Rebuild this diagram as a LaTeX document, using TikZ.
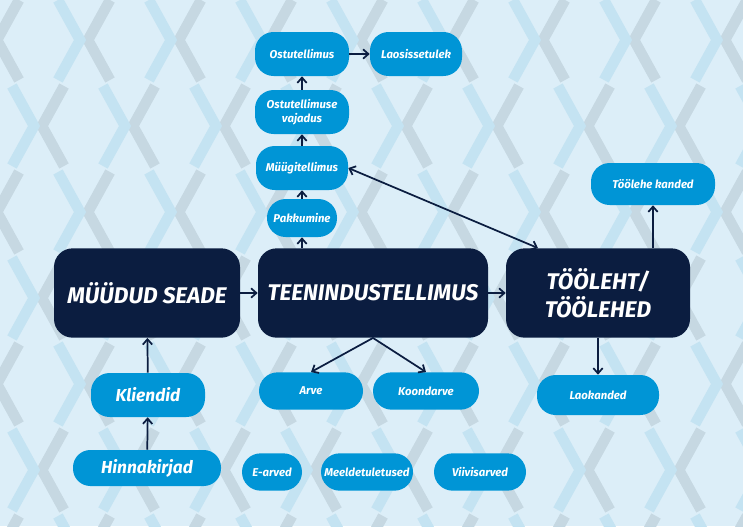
\documentclass[tikz,border=0pt]{standalone}
\usepackage{fontspec}
\setmainfont{Fira Sans}
\usetikzlibrary{positioning,arrows.meta}
\definecolor{bgblue}{HTML}{DCEEF8}
\definecolor{chevblue}{HTML}{C4E3F2}
\definecolor{chevgrey}{HTML}{C6D8E2}
\definecolor{darknavy}{HTML}{0B1D40}
\definecolor{nodeblue}{HTML}{0095D6}
\tikzset{
	big/.style = {fill=darknavy, text=white, rounded corners=14pt, minimum height=67pt,
		align=center, font=\fontsize{17}{21}\selectfont\bfseries\itshape},
	pill/.style = {fill=nodeblue, text=white, rounded corners=14pt, minimum height=33pt,
		align=center, inner sep=1pt, font=\fontsize{8.5}{10}\selectfont\bfseries\itshape},
	link/.style = {-{Straight Barb[length=4pt,width=7pt]}, line width=1.3pt, draw=darknavy}
}
\begin{document}
\begin{tikzpicture}[x = 0.75pt, y = -0.75pt]
	\useasboundingbox (0,0) rectangle (743,526);
	\fill[bgblue] (0,0) rectangle (743,526);
	
	\begin{scope}
	\clip (0,0) rectangle (743,526);
	\foreach \r in {0,...,6} {
		\pgfmathsetmacro{\yy}{\r*86}
		\pgfmathsetmacro{\sh}{mod(\r,2)*45}
		\foreach \c in {-1,...,8} {
			\draw[chevgrey, line width=8pt] (\c*91+\sh+110,\yy) -- (\c*91+\sh+88,\yy+40) -- (\c*91+\sh+110,\yy+80);
			\draw[chevblue, line width=8pt] (\c*91+\sh+58,\yy) -- (\c*91+\sh+80,\yy+40) -- (\c*91+\sh+58,\yy+80);
		}
	}
	\end{scope}
	
	\node[big, minimum width=139.5pt] (seade) at (147,293) {MÜÜDUD SEADE};
	\node[big, minimum width=172.5pt] (teenindus) at (373,293) {TEENINDUSTELLIMUS};
	\node[big, minimum width=138pt] (tooleht) at (598,293) {TÖÖLEHT/\\TÖÖLEHED};
	
	\node[pill, minimum width=70.5pt] (ostu) at (302,54) {Ostutellimus};
	\node[pill, minimum width=69pt] (laosisse) at (416,54) {Laosissetulek};
	\node[pill, minimum width=70.5pt] (vajadus) at (302,112) {Ostutellimuse\\vajadus};
	\node[pill, minimum width=69pt] (myygi) at (302,168) {Müügitellimus};
	\node[pill, minimum width=52.5pt, minimum height=28.5pt] (pakkumine) at (302,218) {Pakkumine};
	\node[pill, minimum width=93pt, minimum height=31.5pt] (kanded) at (653,184) {Töölehe kanded};
	
	\node[pill, minimum width=85.5pt, font=\fontsize{13}{15}\selectfont\bfseries\itshape] (kliendid) at (148,395) {Kliendid};
	\node[pill, minimum width=111pt, minimum height=27pt, rounded corners=13pt, font=\fontsize{13}{15}\selectfont\bfseries\itshape] (hinna) at (147,468) {Hinnakirjad};
	
	\node[pill, minimum width=78pt, minimum height=28pt] (arve) at (311,391) {Arve};
	\node[pill, minimum width=79.5pt, minimum height=28pt] (koond) at (426,391) {Koondarve};
	\node[pill, minimum width=91.5pt, minimum height=30pt] (laokanded) at (598,395) {Laokanded};
	
	\node[pill, minimum width=45pt, minimum height=28pt] (earved) at (272,472) {E-arved};
	\node[pill, minimum width=69pt, minimum height=28pt] (meelde) at (367,472) {Meeldetuletused};
	\node[pill, minimum width=69pt, minimum height=28pt] (viivis) at (480,472) {Viivisarved};
	
	\draw[link] (seade) -- (teenindus);
	\draw[link] (teenindus) -- (tooleht);
	\draw[link] (teenindus.north -| pakkumine) -- (pakkumine);
	\draw[link] (pakkumine) -- (myygi);
	\draw[link] (myygi) -- (vajadus);
	\draw[link] (vajadus) -- (ostu);
	\draw[link] (ostu) -- (laosisse);
	\draw[link, {Straight Barb[length=4pt,width=7pt]}-{Straight Barb[length=4pt,width=7pt]}] (myygi.east) -- ([xshift=-45pt]tooleht.north);
	\draw[link] (tooleht.north -| kanded) -- (kanded);
	\draw[link] (tooleht) -- (laokanded);
	\draw[link] (teenindus.south) -- (arve.north);
	\draw[link] (teenindus.south) -- (koond.north);
	\draw[link] (kliendid) -- (seade);
	\draw[link] (hinna) -- (kliendid);
\end{tikzpicture}
\end{document}
